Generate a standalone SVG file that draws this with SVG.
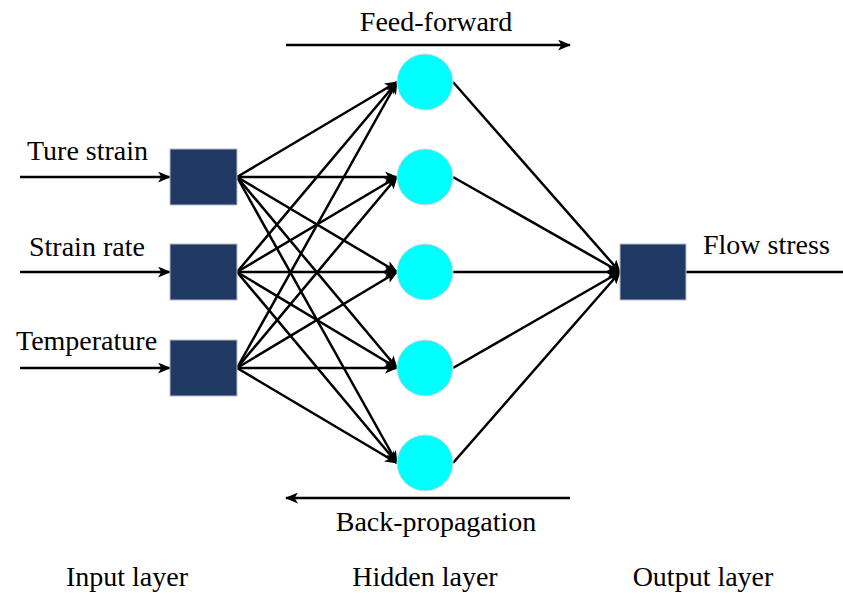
<svg xmlns="http://www.w3.org/2000/svg" width="843" height="593" viewBox="0 0 843 593">
<style>
.t{font-family:"Liberation Serif","Times New Roman",serif;font-size:28px;fill:#000}
.c{stroke:#000;stroke-width:2.5;fill:none}
.box{fill:#1f3864;stroke:#b8bcc8;stroke-width:1}
.hid{fill:#00ffff;stroke:#d8d8d8;stroke-width:1}
</style>
<defs>
<marker id="ah" viewBox="0 0 12 10" refX="11" refY="5" markerWidth="13" markerHeight="11" markerUnits="userSpaceOnUse" orient="auto">
<path d="M0,0 L12,5 L0,10 L3,5 Z" fill="#000"/>
</marker>
</defs>
<rect width="843" height="593" fill="#fff"/>
<g id="connectors">
<line class="c" x1="20" y1="177" x2="170" y2="177" marker-end="url(#ah)"/>
<line class="c" x1="20" y1="272" x2="170" y2="272" marker-end="url(#ah)"/>
<line class="c" x1="20" y1="368" x2="170" y2="368" marker-end="url(#ah)"/>
<g>
<line class="c" x1="237" y1="177" x2="397" y2="82" marker-end="url(#ah)"/>
<line class="c" x1="237" y1="177" x2="397" y2="177" marker-end="url(#ah)"/>
<line class="c" x1="237" y1="177" x2="397" y2="272" marker-end="url(#ah)"/>
<line class="c" x1="237" y1="177" x2="397" y2="368" marker-end="url(#ah)"/>
<line class="c" x1="237" y1="177" x2="397" y2="463" marker-end="url(#ah)"/>
<line class="c" x1="237" y1="272" x2="397" y2="82" marker-end="url(#ah)"/>
<line class="c" x1="237" y1="272" x2="397" y2="177" marker-end="url(#ah)"/>
<line class="c" x1="237" y1="272" x2="397" y2="272" marker-end="url(#ah)"/>
<line class="c" x1="237" y1="272" x2="397" y2="368" marker-end="url(#ah)"/>
<line class="c" x1="237" y1="272" x2="397" y2="463" marker-end="url(#ah)"/>
<line class="c" x1="237" y1="368" x2="397" y2="82" marker-end="url(#ah)"/>
<line class="c" x1="237" y1="368" x2="397" y2="177" marker-end="url(#ah)"/>
<line class="c" x1="237" y1="368" x2="397" y2="272" marker-end="url(#ah)"/>
<line class="c" x1="237" y1="368" x2="397" y2="368" marker-end="url(#ah)"/>
<line class="c" x1="237" y1="368" x2="397" y2="463" marker-end="url(#ah)"/>
</g>
<g>
<line class="c" x1="453" y1="82" x2="620" y2="272" marker-end="url(#ah)"/>
<line class="c" x1="453" y1="177" x2="620" y2="272" marker-end="url(#ah)"/>
<line class="c" x1="453" y1="272" x2="620" y2="272" marker-end="url(#ah)"/>
<line class="c" x1="453" y1="368" x2="620" y2="272" marker-end="url(#ah)"/>
<line class="c" x1="453" y1="463" x2="620" y2="272" marker-end="url(#ah)"/>
</g>
<line class="c" x1="686" y1="272" x2="843" y2="272"/>
<line class="c" x1="286" y1="45" x2="570" y2="45" marker-end="url(#ah)"/>
<line class="c" x1="570" y1="498" x2="286" y2="498" marker-end="url(#ah)"/>
</g>
<g id="in1"><rect class="box" x="170" y="149" width="67" height="56"/></g>
<g id="in2"><rect class="box" x="170" y="244" width="67" height="56"/></g>
<g id="in3"><rect class="box" x="170" y="340" width="67" height="56"/></g>
<g id="h1"><circle class="hid" cx="425" cy="82" r="28"/></g>
<g id="h2"><circle class="hid" cx="425" cy="177" r="28"/></g>
<g id="h3"><circle class="hid" cx="425" cy="272" r="28"/></g>
<g id="h4"><circle class="hid" cx="425" cy="368" r="28"/></g>
<g id="h5"><circle class="hid" cx="425" cy="463" r="28"/></g>
<g id="out"><rect class="box" x="620" y="244" width="66" height="56"/></g>
<g id="labels">
<text class="t" x="27" y="160">Ture strain</text>
<text class="t" x="29" y="256">Strain rate</text>
<text class="t" x="16" y="350">Temperature</text>
<text class="t" x="703" y="254">Flow stress</text>
<text class="t" x="436" y="31" text-anchor="middle">Feed-forward</text>
<text class="t" x="436" y="531" text-anchor="middle">Back-propagation</text>
<text class="t" x="127" y="586" text-anchor="middle">Input layer</text>
<text class="t" x="425" y="586" text-anchor="middle">Hidden layer</text>
<text class="t" x="703" y="586" text-anchor="middle">Output layer</text>
</g>
</svg>
